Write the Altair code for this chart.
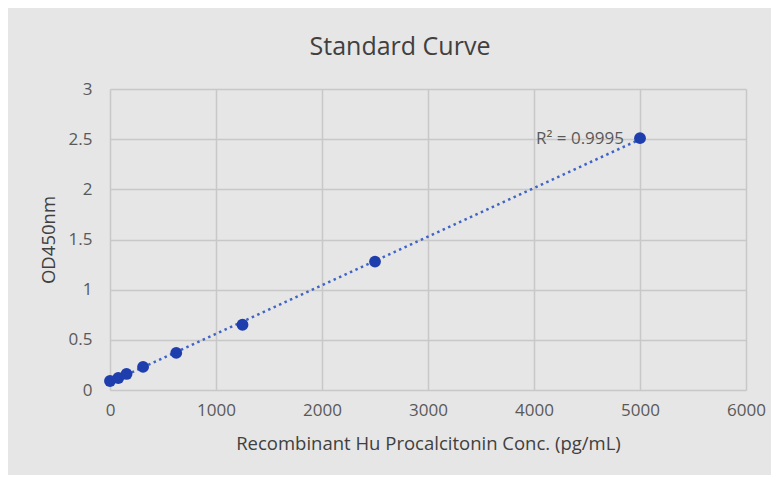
import altair as alt
import pandas as pd

conc = [0, 78, 156, 312, 625, 1250, 2500, 5000]
od = [0.09, 0.12, 0.16, 0.23, 0.37, 0.65, 1.28, 2.51]
r2_label = ["R² = 0.9995"]

df = pd.DataFrame({"conc": conc, "od": od})
lab = pd.DataFrame({"conc": [5000], "od": [2.51], "label": r2_label})

FONT = "Open Sans"
x_enc = alt.X("conc:Q", scale=alt.Scale(domain=[0, 6000], nice=False),
              axis=alt.Axis(values=[0, 1000, 2000, 3000, 4000, 5000, 6000], format="d",
                            title="Recombinant Hu Procalcitonin Conc. (pg/mL)"))
y_enc = alt.Y("od:Q", scale=alt.Scale(domain=[0, 3], nice=False),
              axis=alt.Axis(values=[0, 0.5, 1, 1.5, 2, 2.5, 3], format="~g", title="OD450nm"))

trend = alt.Chart(df).transform_regression("conc", "od", method="linear").mark_line(
    color="#3F63C6", strokeDash=[2.5, 3.5], strokeWidth=2.5
).encode(x=x_enc, y=y_enc)

pts = alt.Chart(df).mark_circle(size=140, color="#1F3EAE", opacity=1).encode(x=x_enc, y=y_enc)

txt = alt.Chart(lab).mark_text(align="right", baseline="middle", dx=-16, dy=1,
                               font=FONT, fontSize=17, color="#595959").encode(
    x="conc:Q", y="od:Q", text="label:N")

chart = alt.layer(trend, pts, txt).properties(
    width=636, height=301,
    title=alt.TitleParams("Standard Curve", font=FONT, fontSize=25, fontWeight="normal",
                          color="#404040", anchor="middle", dx=-28, offset=20),
    padding={"left": 102, "top": 81, "right": 25, "bottom": 85},
    autosize=alt.AutoSizeParams(type="none"),
    background="#E6E6E6",
).configure_view(stroke=None).configure_axis(
    labelFont=FONT, titleFont=FONT, labelFontSize=17, titleFontSize=18.5,
    labelColor="#595959", titleColor="#404040", titleFontWeight="normal",
    gridColor="#C8C8C8", gridWidth=1.5, domain=False, ticks=False, labelFlush=False,
).configure_axisX(labelPadding=12, titlePadding=16).configure_axisY(
    labelPadding=18, titlePadding=10)

chart.save("out.html", embed_options={"renderer": "svg", "actions": False})
